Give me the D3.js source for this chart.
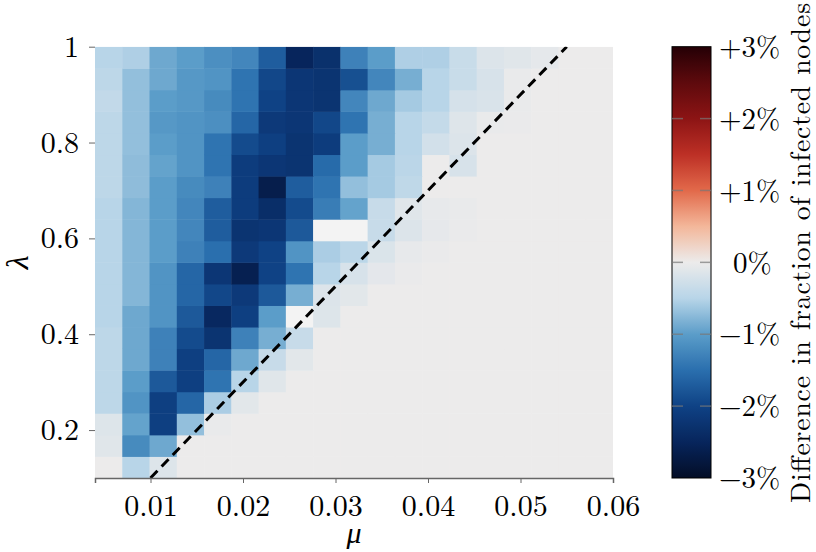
<!DOCTYPE html>
<html>
<head>
<meta charset="utf-8">
<script src="https://cdn.jsdelivr.net/npm/d3@7"></script>
<style>
  body { margin: 0; background: white; }
</style>
</head>
<body>
<div id="chart"></div>
<script>
// mu (columns) and lambda (rows) bin centres
const muValues = [0.005474, 0.008421, 0.011368, 0.014316, 0.017263, 0.020211, 0.023158,
    0.026105, 0.029053, 0.032, 0.034947, 0.037895, 0.040842, 0.043789, 0.046737,
    0.049684, 0.052632, 0.055579, 0.058526];
const lambdaValues = [0.1225, 0.1675, 0.2125, 0.2575, 0.3025, 0.3475, 0.3925, 0.4375,
    0.4825, 0.5275, 0.5725, 0.6175, 0.6625, 0.7075, 0.7525, 0.7975, 0.8425, 0.8875,
    0.9325, 0.9775];

// difference in fraction of infected nodes (%), one row per lambda, bottom row first
const diffValues = [
    [0, -0.5, -0.14, 0, 0, 0, 0, 0, 0, 0, 0, 0, 0, 0, 0, 0, 0, 0, 0],
    [-0.12, -1.2, -0.9, 0, 0, 0, 0, 0, 0, 0, 0, 0, 0, 0, 0, 0, 0, 0, 0],
    [-0.14, -0.95, -2.05, -0.7, -0.03, 0, 0, 0, 0, 0, 0, 0, 0, 0, 0, 0, 0, 0, 0],
    [-0.45, -1.1, -2.05, -1.6, -0.57, -0.1, 0, 0, 0, 0, 0, 0, 0, 0, 0, 0, 0, 0, 0],
    [-0.45, -1.0, -1.75, -2.05, -1.45, -0.5, -0.12, 0, 0, 0, 0, 0, 0, 0, 0, 0, 0, 0, 0],
    [-0.45, -0.9, -1.3, -2.05, -1.6, -0.9, -0.36, -0.1, 0, 0, 0, 0, 0, 0, 0, 0, 0, 0, 0],
    [-0.45, -0.9, -1.3, -1.9, -2.25, -1.3, -0.85, -0.36, 0, 0, 0, 0, 0, 0, 0, 0, 0, 0, 0],
    [-0.5, -0.9, -1.1, -1.75, -2.45, -2.05, -1.0, null, -0.14, 0, 0, 0, 0, 0, 0, 0, 0, 0, 0],
    [-0.5, -0.78, -1.1, -1.6, -1.95, -2.15, -1.75, -0.85, -0.15, -0.1, 0, 0, 0, 0, 0, 0, 0, 0, 0],
    [-0.5, -0.78, -1.1, -1.6, -2.2, -2.6, -2.0, -1.45, -0.5, -0.2, -0.08, -0.02, 0, 0, 0, 0, 0, 0, 0],
    [-0.5, -0.78, -1.0, -1.3, -1.5, -2.15, -2.0, -1.1, -0.57, -0.47, -0.17, -0.05, -0.02, 0, 0, 0, 0, 0, 0],
    [-0.5, -0.78, -1.0, -1.25, -1.7, -2.25, -2.2, -1.75, null, null, -0.36, -0.15, -0.06, -0.02, 0, 0, 0, 0, 0],
    [-0.5, -0.78, -1.0, -1.25, -1.7, -2.1, -2.35, -1.9, -1.35, -0.95, -0.36, -0.12, -0.05, -0.03, 0, 0, 0, 0, 0],
    [-0.45, -0.72, -1.0, -1.2, -1.3, -2.1, -2.65, -1.7, -1.45, -0.7, -0.6, -0.43, 0, 0, 0, 0, 0, 0, 0],
    [-0.45, -0.72, -0.95, -1.1, -1.45, -2.1, -2.2, -2.25, -1.55, -1.0, -0.6, -0.47, 0, -0.2, 0, 0, 0, 0, 0],
    [-0.45, -0.7, -1.0, -1.1, -1.45, -1.9, -2.05, -2.25, -2.1, -1.0, -0.85, -0.5, -0.25, -0.15, 0, 0, 0, 0, 0],
    [-0.45, -0.7, -1.05, -1.1, -1.15, -1.6, -2.15, -2.2, -1.95, -1.45, -0.85, -0.5, -0.38, -0.13, -0.03, -0.02, 0, 0, 0],
    [-0.4, -0.7, -1.0, -1.05, -1.2, -1.45, -2.0, -2.2, -2.25, -1.25, -0.9, -0.6, -0.5, -0.22, -0.18, -0.03, 0, 0, 0],
    [-0.45, -0.7, -0.9, -1.05, -1.1, -1.45, -1.95, -2.2, -2.25, -1.85, -1.25, -0.85, -0.5, -0.35, -0.2, -0.03, 0, 0, 0],
    [-0.5, -0.55, -0.9, -1.0, -1.15, -1.25, -1.7, -2.5, -2.3, -1.3, -1.0, -0.55, -0.55, -0.35, -0.15, -0.12, -0.07, 0, 0]
];

const xTicks = [0.01, 0.02, 0.03, 0.04, 0.05, 0.06];
const yTicks = [0.2, 0.4, 0.6, 0.8, 1];
const cbarTicks = [-3, -2, -1, 0, 1, 2, 3];
// threshold line lambda = 20 (mu - 0.005)
const thresholdLine = [{ mu: 0.01, lambda: 0.1 }, { mu: 0.055, lambda: 1.0 }];

const COLOR_STOPS = ["#030d26", "#07255c", "#0f4285", "#2a6fae", "#5b9dc9", "#b8d5e8",
    "#ecebeb", "#f3b79a", "#e2694a", "#bd3026", "#8c1414", "#5e0a0d", "#250005"];
const MISSING_COLOR = "#f3f3f3";
const AXIS_COLOR = "#666";
const FONT = "'Latin Modern Roman', 'Liberation Serif', serif";

const width = 816, height = 552;
const plot = { left: 95, right: 613, top: 46.7, bottom: 478 };
const cbar = { left: 672, right: 711 };

const svg = d3.select("#chart")
    .append("svg")
    .attr("width", width)
    .attr("height", height)
    .attr("font-family", FONT);

const xScale = d3.scaleLinear().domain([0.004, 0.06]).range([plot.left, plot.right]);
const yScale = d3.scaleLinear().domain([0.1, 1]).range([plot.bottom, plot.top]);
const color = d3.scaleLinear()
    .domain(d3.range(COLOR_STOPS.length).map(i => -3 + i * 0.5))
    .range(COLOR_STOPS)
    .interpolate(d3.interpolateRgb)
    .clamp(true);

const muStep = muValues[1] - muValues[0];
const lambdaStep = lambdaValues[1] - lambdaValues[0];

const cells = [];
diffValues.forEach((row, i) => row.forEach((v, j) => {
    cells.push({ mu: muValues[j], lambda: lambdaValues[i], value: v });
}));

svg.append("defs").append("clipPath").attr("id", "plot-clip")
    .append("rect")
    .attr("x", plot.left).attr("y", plot.top)
    .attr("width", plot.right - plot.left).attr("height", plot.bottom - plot.top);

const heat = svg.append("g").attr("clip-path", "url(#plot-clip)");

heat.selectAll(".cell")
    .data(cells)
    .enter()
    .append("rect")
    .attr("class", "cell")
    .attr("x", d => xScale(d.mu - muStep / 2))
    .attr("y", d => yScale(d.lambda + lambdaStep / 2))
    .attr("width", d => xScale(d.mu + muStep / 2) - xScale(d.mu - muStep / 2) + 0.5)
    .attr("height", d => yScale(d.lambda - lambdaStep / 2) - yScale(d.lambda + lambdaStep / 2) + 0.5)
    .attr("fill", d => d.value === null ? MISSING_COLOR : color(d.value));

heat.append("path")
    .datum(thresholdLine)
    .attr("d", d3.line().x(d => xScale(d.mu)).y(d => yScale(d.lambda)))
    .attr("fill", "none")
    .attr("stroke", "black")
    .attr("stroke-width", 3)
    .attr("stroke-dasharray", "10,6");

// x axis (bottom spine only)
const xAxis = svg.append("g")
    .attr("transform", `translate(0,${plot.bottom})`)
    .call(d3.axisBottom(xScale).tickValues(xTicks).tickSize(5).tickPadding(12)
        .tickFormat(d3.format(".2f")));
xAxis.attr("font-family", FONT).attr("font-size", 30);
xAxis.select(".domain").attr("stroke", AXIS_COLOR).attr("stroke-width", 1.5);
xAxis.selectAll(".tick line").attr("stroke", AXIS_COLOR);
xAxis.selectAll(".tick text").attr("fill", "black");

const yAxis = svg.append("g")
    .attr("transform", `translate(${plot.left},0)`)
    .call(d3.axisLeft(yScale).tickValues(yTicks).tickSize(6).tickPadding(10)
        .tickFormat(d => d === 1 ? "1" : d3.format(".1f")(d)));
yAxis.attr("font-family", FONT).attr("font-size", 30);
yAxis.select(".domain").remove();
yAxis.selectAll(".tick line").attr("stroke", AXIS_COLOR);
yAxis.selectAll(".tick text").attr("fill", "black");

svg.append("text")
    .attr("x", (plot.left + plot.right) / 2)
    .attr("y", 543)
    .attr("text-anchor", "middle")
    .attr("font-size", 30)
    .attr("font-style", "italic")
    .text("μ");

svg.append("text")
    .attr("transform", `translate(28,${(plot.top + plot.bottom) / 2}) rotate(-90)`)
    .attr("text-anchor", "middle")
    .attr("font-size", 32)
    .attr("font-style", "italic")
    .text("λ");

// colour bar
const cScale = d3.scaleLinear().domain([-3, 3]).range([plot.bottom, plot.top]);
const grad = svg.select("defs").append("linearGradient")
    .attr("id", "cbar-grad")
    .attr("x1", 0).attr("y1", 1).attr("x2", 0).attr("y2", 0);
grad.selectAll("stop")
    .data(d3.range(61).map(i => -3 + i * 0.1))
    .enter()
    .append("stop")
    .attr("offset", d => (d + 3) / 6)
    .attr("stop-color", d => color(d));

svg.append("rect")
    .attr("x", cbar.left)
    .attr("y", plot.top)
    .attr("width", cbar.right - cbar.left)
    .attr("height", plot.bottom - plot.top)
    .attr("fill", "url(#cbar-grad)")
    .attr("stroke", "black")
    .attr("stroke-width", 1);

const innerTicks = cbarTicks.filter(t => t > -3 && t < 3);
[[cbar.left, cbar.left + 11], [cbar.right - 11, cbar.right]].forEach(([x1, x2]) => {
    svg.selectAll(null)
        .data(innerTicks)
        .enter()
        .append("line")
        .attr("x1", x1).attr("x2", x2)
        .attr("y1", d => cScale(d)).attr("y2", d => cScale(d))
        .attr("stroke", "#777")
        .attr("stroke-opacity", 0.7)
        .attr("stroke-width", 1.5);
});

svg.selectAll(".cbar-label")
    .data(cbarTicks)
    .enter()
    .append("text")
    .attr("class", "cbar-label")
    .attr("x", d => d === 0 ? 733 : 719)
    .attr("y", d => cScale(d))
    .attr("dy", "0.35em")
    .attr("font-size", 29)
    .text(d => d > 0 ? `+${d}%` : d < 0 ? `\u2212${-d}%` : "0%");

svg.append("text")
    .attr("transform", `translate(810,503) rotate(-90)`)
    .attr("text-anchor", "start")
    .attr("font-size", 27.5)
    .attr("textLength", 500)
    .attr("lengthAdjust", "spacing")
    .text("Difference in fraction of infected nodes");
</script>
</body>
</html>
